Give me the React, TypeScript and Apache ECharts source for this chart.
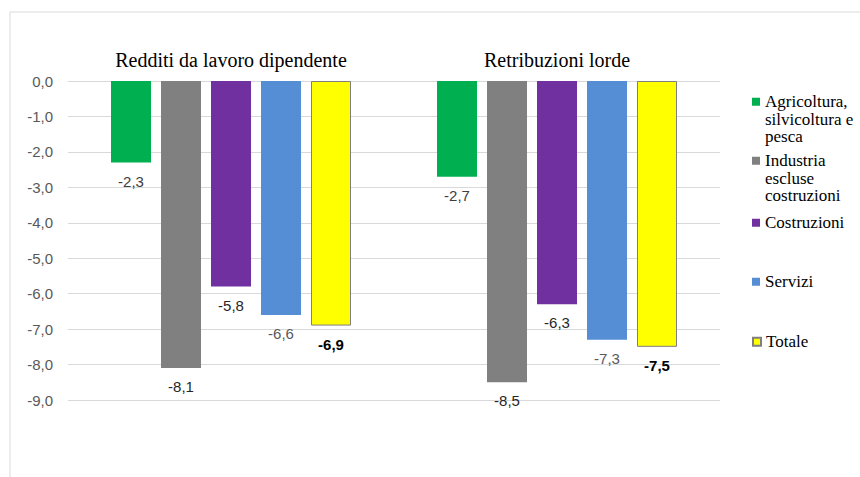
import React, { useEffect, useRef } from "react";
import * as echarts from "echarts";

const categories = ["Redditi da lavoro dipendente", "Retribuzioni lorde"];
const seriesNames = [
  "Agricoltura,\nsilvicoltura e\npesca",
  "Industria\nescluse\ncostruzioni",
  "Costruzioni",
  "Servizi",
  "Totale",
];
const agricoltura = [-2.3, -2.7];
const industria = [-8.1, -8.5];
const costruzioni = [-5.8, -6.3];
const servizi = [-6.6, -7.3];
const totale = [-6.9, -7.5];
const seriesValues = [agricoltura, industria, costruzioni, servizi, totale];
const colors = ["#00B050", "#808080", "#7030A0", "#558ED5", "#FFFF00"];
const labelColors = ["#404040", "#262626", "#262626", "#595959", "#000000"];
const yTicks = { min: -9, max: 0, interval: 1 };

const fmt = (v: number) => v.toFixed(1).replace(".", ",");

export default function App() {
  const ref = useRef<HTMLDivElement>(null);
  useEffect(() => {
    if (!ref.current) return;
    const chart = echarts.init(ref.current, null, { renderer: "svg" });
    const sans = "Liberation Sans";
    const serif = "Liberation Serif";
    const legendTops = [93, 152, 214, 273, 333];
    const legends = seriesNames.map((name, i) => {
      const lines = name.split("\n").length;
      const multi = lines > 1;
      const ts = { fontFamily: serif, fontSize: 17, color: "#000000", lineHeight: 17.5 };
      return {
        orient: "vertical",
        left: 752,
        top: legendTops[i],
        padding: 0,
        itemWidth: 8,
        itemHeight: multi ? 43 : 8,
        symbolKeepAspect: false,
        icon: multi ? "path://M0,0H8V8H0Z M0,42.99H0.01V43H0Z" : "rect",
        textStyle: ts,
        data: [{ name, textStyle: ts }],
      };
    });
    chart.setOption({
      animation: false,
      backgroundColor: "#ffffff",
      graphic: [
        {
          type: "rect",
          shape: { x: 10, y: 12, width: 1000, height: 1000 },
          style: { fill: "none", stroke: "#d9d9d9", lineWidth: 1 },
          silent: true,
        },
      ],
      grid: { left: 68, right: 140, top: 81, bottom: 77, containLabel: false },
      legend: legends,
      xAxis: {
        type: "category",
        position: "top",
        data: categories,
        axisLine: { show: false },
        axisTick: { show: false },
        axisLabel: {
          fontFamily: serif,
          fontSize: 20,
          color: "#000000",
          margin: 11,
        },
      },
      yAxis: {
        type: "value",
        min: yTicks.min,
        max: yTicks.max,
        interval: yTicks.interval,
        axisLine: { show: false },
        axisTick: { show: false },
        splitLine: { lineStyle: { color: "#d9d9d9", width: 1 } },
        axisLabel: {
          fontFamily: sans,
          fontSize: 15,
          color: "#595959",
          margin: 15,
          formatter: (v: number) => fmt(v),
        },
      },
      series: seriesNames.map((name, i) => ({
        name,
        type: "bar",
        data: seriesValues[i],
        barWidth: 40,
        barGap: "25%",
        itemStyle: {
          color: colors[i],
          borderColor: i === 4 ? "#7f7f7f" : colors[i],
          borderWidth: i === 4 ? 1 : 0,
        },
        label: {
          show: true,
          position: "bottom",
          distance: 11,
          fontFamily: sans,
          fontSize: 15,
          color: labelColors[i],
          fontWeight: i === 4 ? "bold" : "normal",
          formatter: (p: any) => fmt(p.value),
        },
      })),
    });
    return () => chart.dispose();
  }, []);
  return (
    <div
      ref={ref}
      style={{ position: "absolute", left: 0, top: 0, width: 860, height: 477 }}
    />
  );
}
